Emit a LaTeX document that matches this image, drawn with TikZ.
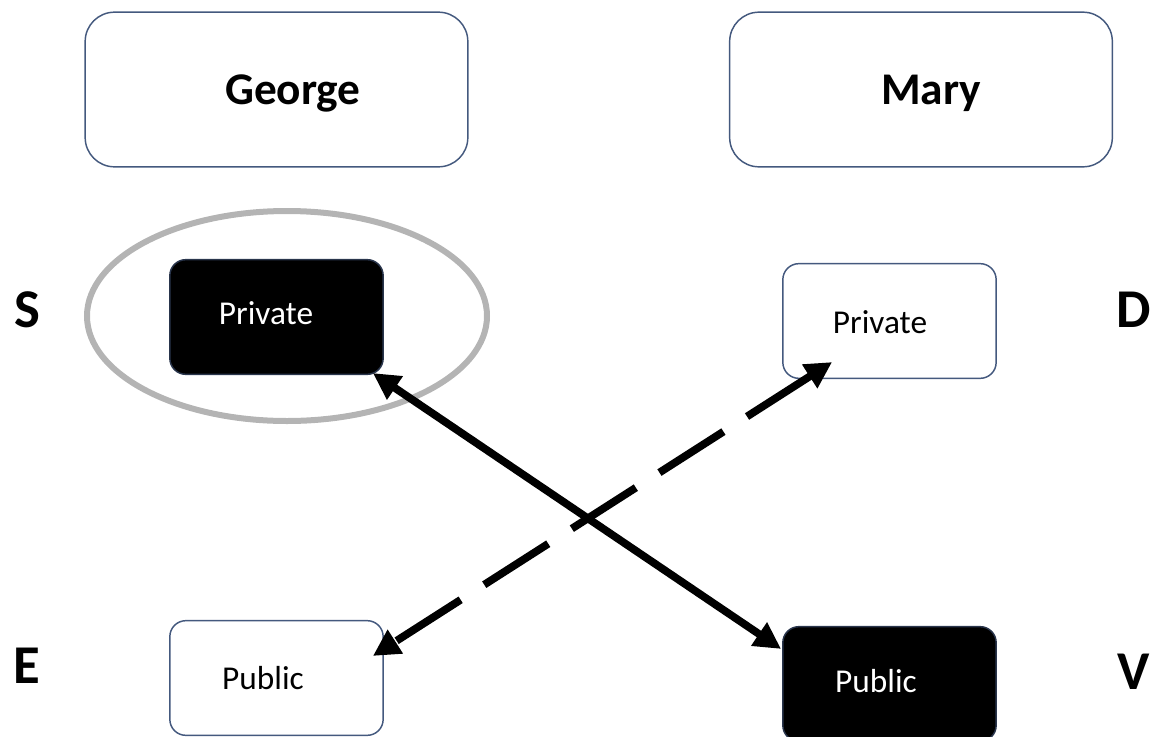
\documentclass[tikz,border=0pt]{standalone}
\usepackage{fontspec}
\setmainfont{Carlito}
\usetikzlibrary{arrows.meta,calc}
\definecolor{boxline}{HTML}{44597E}
\definecolor{ringgray}{HTML}{B4B4B4}
\begin{document}
\begin{tikzpicture}[x=0.75pt,y=-0.75pt,
  bigbox/.style={draw=boxline,line width=1.1pt,rounded corners=22pt,minimum width=287pt,minimum height=116pt,inner sep=0pt},
  whitebox/.style={draw=boxline,line width=1.1pt,rounded corners=12pt,minimum width=160pt,minimum height=86pt,inner sep=0pt,fill=white},
  blackbox/.style={draw=boxline!60!black,line width=1.1pt,rounded corners=12pt,minimum width=160pt,minimum height=86pt,inner sep=0pt,fill=black},
  nametext/.style={font=\fontsize{34}{40}\selectfont\bfseries},
  smalltext/.style={font=\fontsize{25}{30}\selectfont},
  sidetext/.style={font=\fontsize{41}{48}\selectfont\bfseries},
  link/.style={line width=5.8pt,{Triangle[length=20pt,width=20pt]}-{Triangle[length=20pt,width=20pt]}},
  ring/.style={draw=ringgray,line width=4.5pt}
]
\useasboundingbox (0,0) rectangle (1153,736);
% top boxes
\node[bigbox] (george) at (276.5,89.5) {};
\node[nametext] (georgetxt) at (293,93) {George};
\node[bigbox] (mary) at (921,89.5) {};
\node[nametext] (marytxt) at (931,93) {Mary};
% ring
\draw[ring] (287,316) ellipse [x radius=200, y radius=105];
% small boxes
\node[blackbox] (privS) at (276.5,317) {};
\node[smalltext,text=white] (privStxt) at (266,313) {Private};
\node[whitebox] (privD) at (889.5,321) {};
\node[smalltext] (privDtxt) at (880,322) {Private};
\node[whitebox] (pubE) at (276.5,678) {};
\node[smalltext] (pubEtxt) at (263,678) {Public};
\node[blackbox] (pubV) at (889.5,684) {};
\node[smalltext,text=white] (pubVtxt) at (876,681) {Public};
% side letters
\node[sidetext] (S) at (27,310) {S};
\node[sidetext] (D) at (1134,310) {D};
\node[sidetext] (E) at (27,666) {E};
\node[sidetext] (V) at (1134,672) {V};
% connectors
\draw[link] ($(privS.south east)+(-11,-2)$) -- ($(pubV.north west)+(-1,23)$);
\draw[link,dash pattern=on 57pt off 21pt] ($(privD.south west)+(50,-17)$) -- ($(pubE.north east)+(-11,36)$);
\end{tikzpicture}
\end{document}
